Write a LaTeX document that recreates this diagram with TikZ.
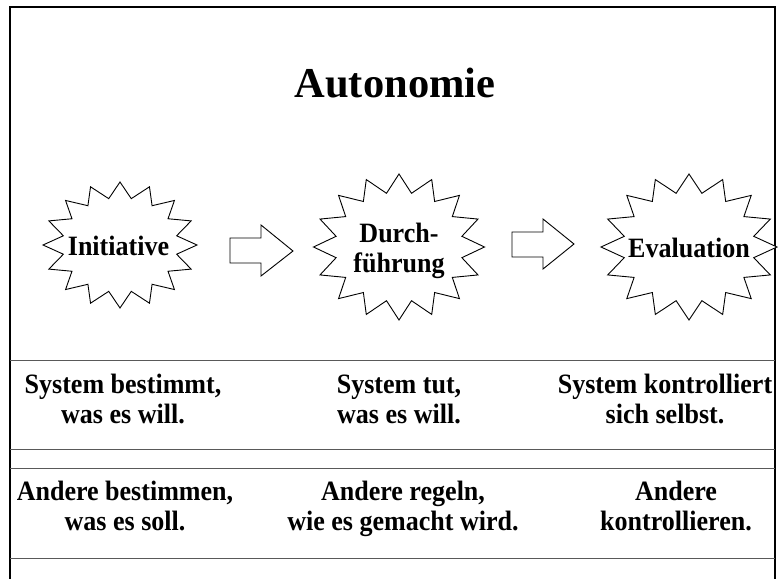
\documentclass[tikz,border=0pt]{standalone}
\usepackage{fontspec}
\setmainfont{Liberation Serif}
\newfontfamily\labfont{Liberation Serif}[FakeStretch=0.93]
\begin{document}
\begin{tikzpicture}[x=1pt,y=-1pt,
  frameline/.style={line width=2pt,black},
  rowline/.style={line width=1pt,black!65},
  starline/.style={line width=0.9pt,black,fill=white,line join=miter},
  blockarrow/.style={line width=0.9pt,black,fill=white,line join=miter},
  titletext/.style={font=\bfseries\fontsize{42.5}{46}\selectfont,inner sep=0pt,anchor=base},
  labtext/.style={font=\labfont\bfseries\fontsize{28}{29.5}\selectfont,inner sep=0pt,align=center,anchor=base}]
\useasboundingbox (0,0) rectangle (778,578);
\fill[white] (0,0) rectangle (778,578);
% frame
\draw[frameline] (10,580) -- (10,7) -- (775,7) -- (775,580);
% table lines
\foreach \yy in {360,449,468,558} \draw[rowline] (10,\yy) -- (775,\yy);
% stars
\newcommand\starburst[4]{%
  \draw[starline] plot[samples at={0,...,31}]
    ({#1+#3*(mod(\x,2)==0 ? 1 : 0.75)*cos(90+\x*11.25)},
     {#2-#4*(mod(\x,2)==0 ? 1 : 0.75)*sin(90+\x*11.25)}) -- cycle;}
\starburst{120}{245}{77}{63}
\starburst{399}{247}{85.5}{73}
\starburst{689}{247}{88}{73}
% block arrows
\coordinate (a1) at (230,238);
\coordinate (a2) at (512,232);
\draw[blockarrow] (a1) -- ++(31,0) -- ++(0,-13) -- ++(32,26) -- ++(-32,25) -- ++(0,-13) -- ++(-31,0) -- cycle;
\draw[blockarrow] (a2) -- ++(31,0) -- ++(0,-13) -- ++(31,25) -- ++(-31,25) -- ++(0,-12) -- ++(-31,0) -- cycle;
% title
\node[titletext] (title) at (395,97) {Autonomie};
% star labels (multi-line nodes are anchored at the last baseline)
\node[labtext] (ini) at (118.5,255) {Initiative};
\node[labtext,font=\labfont\bfseries\fontsize{28}{30}\selectfont] (dur) at (399,272) {Durch-\\führung};
\node[labtext] (eva) at (689,257) {Evaluation};
% table texts
\node[labtext] (s1) at (123,423) {System bestimmt,\\was es will.};
\node[labtext] (s2) at (399,423) {System tut,\\was es will.};
\node[labtext] (s3) at (665,423) {System kontrolliert\\sich selbst.};
\node[labtext] (o1) at (125,530) {Andere bestimmen,\\was es soll.};
\node[labtext] (o2) at (403,530) {Andere regeln,\\wie es gemacht wird.};
\node[labtext] (o3) at (676,530) {Andere\\kontrollieren.};
\end{tikzpicture}
\end{document}
